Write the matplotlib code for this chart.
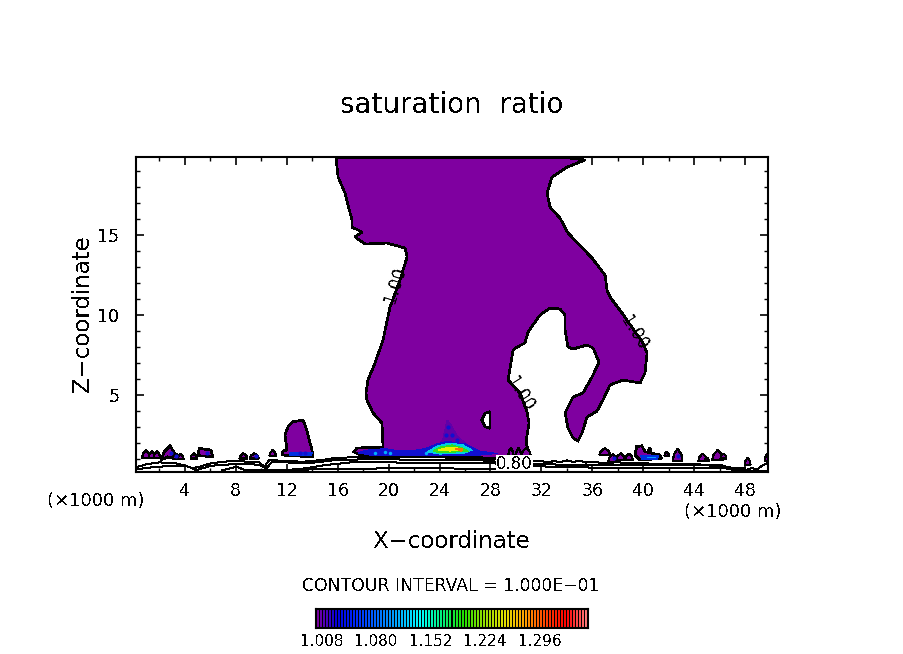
import numpy as np
import matplotlib
matplotlib.use("Agg")
import matplotlib.pyplot as plt
from matplotlib.colors import LinearSegmentedColormap

plt.rcParams['font.family'] = ['DejaVu Sans']
plt.rcParams['text.antialiased'] = False

W, H = 904, 654
X_LIM = (0.157, 49.8)
Z_LIM = (0.19, 19.88)
X_MAJOR = [4, 8, 12, 16, 20, 24, 28, 32, 36, 40, 44, 48]
X_MINOR = [2, 6, 10, 14, 18, 22, 26, 30, 34, 38, 42, 46]
Z_MAJOR = [5, 10, 15]
Z_MINOR = [1, 2, 3, 4, 6, 7, 8, 9, 11, 12, 13, 14, 16, 17, 18, 19]

PURPLE = '#7F00A0'
CMAP_COLORS = ['#7F00A0', '#0000E0', '#0030FF', '#0070FF', '#00B0FF', '#00FFFF', '#00F080',
               '#20E000', '#90E000', '#E0E000', '#FFA000', '#FF4000', '#FF0000', '#FF8080']

main_x = [15.87, 16.03, 16.57, 17.12, 17.12, 17.91, 17.36, 18.15, 19.87, 21.29, 21.45, 20.9, 20.11, 19.56,
          18.93, 18.38, 18.22, 18.3, 18.77, 19.48, 19.56, 17.52, 17.28, 17.75, 21.92, 23.49, 28.52, 29.85, 30.95,
          30.79, 31.03, 30.87, 30.32, 29.38, 29.77, 30.09, 30.71, 30.95, 31.89, 32.68, 33.46, 33.86, 33.86,
          34.09, 34.49, 35.59, 36.06, 36.53, 35.98, 35.27, 34.49, 34.09, 33.86, 34.09, 34.49, 34.88, 35.19,
          35.59, 36.37, 36.84, 37.39, 38.41, 39.75, 40.14, 40.3, 39.98, 38.33, 37.39, 37.16, 37.0, 35.98,
          34.09, 33.46, 32.68, 32.44, 32.84, 34.01, 35.43, 34.25]
main_z = [19.81, 18.63, 17.63, 15.94, 15.5, 15.19, 14.88, 14.44, 14.5, 14.19, 13.63, 12.19, 10.5, 8.44,
          7.0, 5.94, 5.13, 4.69, 3.88, 3.25, 1.75, 1.69, 1.44, 1.25, 1.25, 1.13, 1.06, 1.19, 1.56,
          2.06, 3.25, 3.94, 5.13, 5.94, 7.81, 8.0, 8.25, 8.94, 10.0, 10.44, 10.38, 10.0, 9.06,
          8.0, 7.88, 8.13, 7.94, 7.06, 6.13, 5.13, 4.88, 4.25, 3.88, 2.94, 2.31, 2.13, 2.63,
          3.63, 4.0, 4.69, 5.63, 5.94, 5.75, 6.38, 7.63, 8.25, 10.13, 11.13, 11.56, 12.5, 13.56,
          15.13, 16.06, 16.75, 17.63, 18.63, 19.25, 19.69, 19.81]

hole_x = [27.31, 27.57, 27.97, 27.97, 27.57]
hole_z = [3.44, 3.85, 3.96, 2.92, 3.02]

lobe12_x = [12.02, 11.86, 12.1, 12.49, 13.28, 13.57, 13.83, 13.98, 14.06, 11.63, 11.7]
lobe12_z = [1.56, 2.5, 3.02, 3.33, 3.44, 2.81, 2.0, 1.56, 1.13, 1.25, 1.5]

lobe3_x = [2.12, 2.38, 2.85, 3.17, 3.09, 2.65]
lobe3_z = [0.94, 1.46, 1.83, 1.36, 1.04, 1.14]

block5_x = [5.0, 5.13, 6.05, 6.18]
block5_z = [1.21, 1.67, 1.56, 1.15]

lobe40_x = [39.35, 39.48, 39.88, 40.14, 41.32, 41.45, 39.75]
lobe40_z = [1.25, 1.77, 1.83, 1.46, 1.25, 1.04, 0.94]

# small cells: centre, width, base, top
cell_x = [0.94, 1.41, 1.8, 3.3, 3.64, 4.7, 8.59, 9.45, 10.9, 29.6, 30.2, 30.8,
          36.99, 37.6, 38.23, 38.88, 40.5, 41.85, 42.7, 44.66, 45.0, 45.85, 46.3, 48.2, 49.7]
cell_w = [0.6, 0.5, 0.5, 0.5, 0.5, 0.5, 0.6, 0.7, 0.5, 0.4, 0.4, 0.7,
          0.85, 0.7, 0.7, 0.6, 0.2, 0.35, 0.75, 0.65, 0.3, 0.85, 0.45, 0.45, 0.3]
cell_b = [1.06, 1.06, 1.06, 1.0, 1.0, 1.04, 1.04, 1.04, 1.2, 1.2, 1.2, 1.2,
          1.25, 0.83, 0.94, 0.94, 1.5, 1.2, 0.88, 0.88, 0.88, 0.94, 1.04, 0.63, 0.9]
cell_t = [1.56, 1.5, 1.5, 1.35, 1.3, 1.35, 1.35, 1.35, 1.56, 1.7, 1.7, 1.7,
          1.67, 1.29, 1.35, 1.35, 1.7, 1.45, 1.63, 1.35, 1.1, 1.56, 1.35, 1.08, 1.3]

plume_x = [24.27, 24.59, 24.82, 25.45, 26.2, 24.0]
plume_z = [2.3, 3.44, 3.25, 2.38, 1.9, 1.9]
band_x = [18.15, 19.72, 20.9, 22.07, 22.86, 23.8, 24.59, 26.0, 27.18, 28.52, 27.18, 23.25, 18.54, 17.6]
band_z = [1.55, 1.65, 1.5, 1.55, 1.65, 1.95, 2.1, 1.95, 1.5, 1.35, 1.25, 1.19, 1.25, 1.38]
cyan_x = [23.02, 23.8, 24.82, 25.84, 26.55, 26.0, 24.04]
cyan_z = [1.44, 1.81, 2.0, 1.88, 1.56, 1.38, 1.31]
green_x = [23.49, 24.04, 24.98, 25.84, 26.24, 25.22, 24.04]
green_z = [1.5, 1.75, 1.88, 1.69, 1.5, 1.44, 1.38]
yellow_x = [23.88, 24.43, 25.22, 25.77, 24.82]
yellow_z = [1.56, 1.69, 1.75, 1.56, 1.5]
red_x = [25.22, 25.84, 25.69]
red_z = [1.63, 1.63, 1.5]
blue_dot_x = [24.5, 25.0, 25.4, 24.7, 18.5, 9.6, 5.7, 2.9, 3.3, 37.7, 42.7, 13.0, 13.4]
blue_dot_z = [2.5, 2.5, 2.2, 3.0, 1.4, 1.2, 1.35, 1.4, 1.2, 1.05, 1.2, 1.35, 1.35]
cyan_dot_x = [19.7, 20.1, 18.9, 22.9]
cyan_dot_z = [1.45, 1.4, 1.35, 1.4]
blue12_x = [12.2, 14.0, 13.9, 12.2]
blue12_z = [1.4, 1.4, 1.2, 1.2]
blue40_x = [39.8, 41.2, 41.1, 39.9]
blue40_z = [1.2, 1.2, 1.0, 1.0]
cyan40_x = [40.3, 41.0, 41.0, 40.3]
cyan40_z = [1.14, 1.14, 1.06, 1.06]

line_a_x = [0.16, 0.94, 2, 3.3, 4.08, 4.6, 5.13, 6.05, 6.96, 8, 9.85, 10.24, 10.63, 11.94, 13.25, 14.8, 15.87,
            18, 20, 22, 24, 26, 28, 30, 31, 32, 32.5, 33, 33.5, 34, 34.5, 35, 35.5, 36, 37, 38, 39, 40, 41, 42, 43,
            44, 45, 46, 46.5, 47, 47.5, 48, 48.5, 49, 49.4, 49.8]
line_a_z = [0.48, 0.67, 0.79, 0.73, 0.58, 0.42, 0.52, 0.73, 0.83, 0.88, 0.79, 0.52, 0.94, 0.88, 0.83, 0.94, 1.08,
            1.12, 1.12, 1.12, 1.1, 1.1, 1.0, 0.9, 0.85, 0.88, 0.78, 0.88, 0.8, 0.92, 0.82, 0.9, 0.78, 0.82, 0.75,
            0.8, 0.72, 0.75, 0.68, 0.72, 0.66, 0.7, 0.62, 0.65, 0.52, 0.45, 0.35, 0.3, 0.42, 0.38, 0.62, 0.75]
line_b_x = [0.16, 1.73, 4.08, 4.9, 6.05, 8, 9.85, 10.4, 10.8, 11.94, 13.6, 15.87, 18, 20, 24, 27, 30, 33, 36, 38, 40,
            42, 44, 45, 46, 47, 48, 49.8]
line_b_z = [0.35, 0.52, 0.58, 0.31, 0.58, 0.69, 0.65, 0.42, 0.79, 0.79, 0.73, 0.94, 0.98, 0.98, 0.94, 0.94, 0.72, 0.66,
            0.62, 0.62, 0.62, 0.62, 0.6, 0.62, 0.5, 0.33, 0.22, 0.25]
line_c_x = [11.94, 13.5, 15, 17, 20, 24, 28, 31, 35, 37, 40, 44, 46, 48]
line_c_z = [0.31, 0.42, 0.62, 0.79, 0.79, 0.75, 0.75, 0.55, 0.5, 0.42, 0.42, 0.42, 0.44, 0.42]
line_d_x = [6.9, 7.6, 8.0, 8.8, 9.8, 20, 24, 28, 31]
line_d_z = [0.3, 0.42, 0.52, 0.3, 0.3, 0.42, 0.42, 0.38, 0.3]

label_text = ['1.00', '1.00', '1.00', '0.80']
label_x = [20.5, 39.3, 30.3, 29.9]
label_z = [11.9, 8.9, 5.05, 0.72]
label_rot = [72, -58, -58, 0]

bar_levels = np.arange(1.002, 1.36, 0.004)
bar_ticks = [1.008, 1.080, 1.152, 1.224, 1.296]
bar_tick_labels = ['1.008', '1.080', '1.152', '1.224', '1.296']

fig = plt.figure(figsize=(W / 100, H / 100), dpi=100, facecolor='white')
ax = fig.add_axes([136 / W, 1 - 472 / H, 632 / W, 315 / H])
ax.set_xlim(*X_LIM)
ax.set_ylim(*Z_LIM)

def patch(xs, zs, color, edge=None, lw=1.0, zo=2):
    ax.fill(xs, zs, facecolor=color, edgecolor=edge if edge else 'none', linewidth=lw if edge else 0,
            antialiased=False, zorder=zo, closed=True, clip_on=True)

patch(main_x, main_z, PURPLE, 'black', 1.2)
patch(lobe12_x, lobe12_z, PURPLE, 'black', 1.2)
patch(lobe3_x, lobe3_z, PURPLE, 'black', 1.2)
patch(block5_x, block5_z, PURPLE, 'black', 1.2)
patch(lobe40_x, lobe40_z, PURPLE, 'black', 1.2)
for cx, cw, cb, ct in zip(cell_x, cell_w, cell_b, cell_t):
    shoulder = cb + 0.55 * (ct - cb)
    patch([cx - cw / 2, cx - cw / 2.6, cx, cx + cw / 2.6, cx + cw / 2],
          [cb, shoulder, ct, shoulder, cb], PURPLE, 'black', 0.9)
patch(hole_x, hole_z, 'white', 'black', 1.2, zo=3)

cmap = LinearSegmentedColormap.from_list('sat', CMAP_COLORS)
patch(plume_x, plume_z, '#6000A8', zo=3)
patch(band_x, band_z, '#1010D0', zo=3)
patch(blue12_x, blue12_z, '#0030E0', zo=3)
patch(blue40_x, blue40_z, '#0030E0', zo=3)
patch(cyan40_x, cyan40_z, '#00A0FF', zo=4)
patch(cyan_x, cyan_z, '#00D0E0', zo=4)
patch(green_x, green_z, '#30E020', zo=5)
patch(yellow_x, yellow_z, '#F0F000', zo=6)
patch(red_x, red_z, '#FF7000', zo=7)
ax.plot(blue_dot_x, blue_dot_z, ls='none', marker='o', ms=3, mfc='#1010D0', mec='none', zorder=3, antialiased=False)
ax.plot(cyan_dot_x, cyan_dot_z, ls='none', marker='o', ms=2.5, mfc='#00B0FF', mec='none', zorder=4, antialiased=False)

for lx, lz in [(line_a_x, line_a_z), (line_b_x, line_b_z), (line_c_x, line_c_z), (line_d_x, line_d_z)]:
    ax.plot(lx, lz, color='black', lw=0.72, antialiased=False, zorder=8)

for s, lx, lz, r in zip(label_text, label_x, label_z, label_rot):
    ax.text(lx, lz, s, rotation=r, rotation_mode='anchor', ha='center', va='center', fontsize=12, color='black',
            zorder=9, bbox=dict(facecolor='white', edgecolor='none', pad=0) if s == '0.80' else None)

ax.set_xticks(X_MAJOR)
ax.set_xticklabels([str(v) for v in X_MAJOR], fontsize=12.5)
ax.set_xticks(X_MINOR, minor=True)
ax.set_yticks(Z_MAJOR)
ax.set_yticklabels([str(v) for v in Z_MAJOR], fontsize=12.5)
ax.set_yticks(Z_MINOR, minor=True)
ax.tick_params(axis='both', which='major', direction='in', length=6, width=1.2, top=True, right=True)
ax.tick_params(axis='both', which='minor', direction='in', length=3, width=1.0, top=True, right=True)
ax.tick_params(axis='x', which='major', pad=7)
ax.tick_params(axis='y', which='major', pad=12)
for sp in ax.spines.values():
    sp.set_linewidth(1.5)
    sp.set_zorder(10)

def ftext(px, py, s, size, **kw):
    fig.text(px / W, 1 - py / H, s, ha='center', va='center', fontsize=size, **kw)

ftext(452, 105, 'saturation  ratio', 20)
ftext(452, 541, 'X\u2212coordinate', 16.5)
ftext(83, 314, 'Z\u2212coordinate', 16.5, rotation=90)
ftext(96, 501, '(\u00d71000 m)', 13)
ftext(733, 512, '(\u00d71000 m)', 13)
ftext(451, 586, 'CONTOUR INTERVAL = 1.000E\u221201', 12.4)

cax = fig.add_axes([316 / W, 1 - 628 / H, 272 / W, 19 / H], facecolor='black')
cax.set_xlim(1.0, 1.36)
cax.set_ylim(0, 1)
norm = plt.Normalize(1.0, 1.36)
cax.vlines(bar_levels, 0, 1, colors=cmap(norm(bar_levels)), linewidth=1.1, antialiased=False)
cax.set_yticks([])
cax.set_xticks(bar_ticks)
cax.set_xticklabels(bar_tick_labels, fontsize=11)
cax.tick_params(axis='x', length=0, pad=4)
for sp in cax.spines.values():
    sp.set_linewidth(1.5)

fig.savefig('out.png', dpi=100, facecolor='white')
